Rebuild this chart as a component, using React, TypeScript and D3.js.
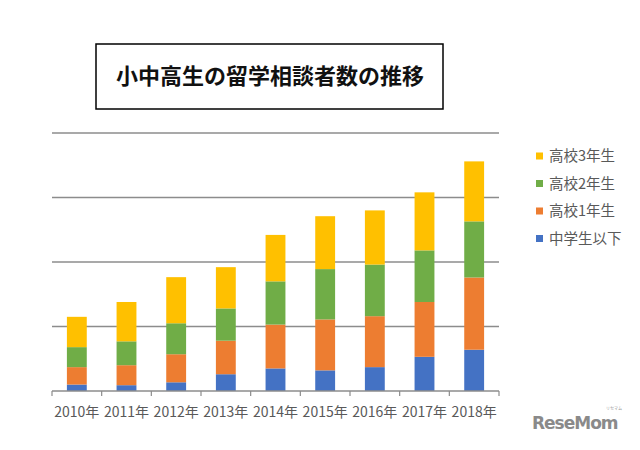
import React from "react";
import * as d3 from "d3";

const years = ["2010年", "2011年", "2012年", "2013年", "2014年", "2015年", "2016年", "2017年", "2018年"];
const seriesNames = ["中学生以下", "高校1年生", "高校2年生", "高校3年生"];
const colors = ["#4472C4", "#ED7D31", "#70AD47", "#FFC000"];
const juniorHigh = [10, 9, 13.5, 26, 35, 32, 37, 53, 64];
const high1 = [27, 31, 43.5, 52, 68, 79, 79, 85, 112];
const high2 = [31, 37, 48, 50, 67, 78, 80, 80, 87];
const high3 = [47, 61, 71.5, 64, 72, 82, 84, 90, 93];
const gridTicks = [0, 100, 200, 300, 400];

const W = 640, H = 450;
const M = { left: 52, right: 141, top: 133, bottom: 59 };
const FONT = "'Noto Sans CJK JP', 'Noto Sans', sans-serif";

export default function App() {
  const x = d3.scaleBand<string>().domain(years).range([M.left, W - M.right]).paddingInner(0.6).paddingOuter(0.3);
  const y = d3.scaleLinear().domain([0, 400]).range([H - M.bottom, M.top]);
  const table = years.map((yr, i) => ({ year: yr, s0: juniorHigh[i], s1: high1[i], s2: high2[i], s3: high3[i] }));
  const stack = d3.stack<any>().keys(["s0", "s1", "s2", "s3"]);
  const layers = stack(table);
  const band = d3.scaleBand<string>().domain(years).range([M.left, W - M.right]);
  const tickXs = d3.range(years.length + 1).map((i) => M.left + i * band.step());
  const legendOrder = [3, 2, 1, 0];
  return (
    <svg width={W} height={H} style={{ position: "absolute", left: 0, top: 0, background: "#fff" }}>
      <rect x={0} y={0} width={W} height={H} fill="#fff" />
      <rect x={96} y={44} width={347} height={65} fill="#fff" stroke="#000" strokeWidth={1.5} />
      <text x={270} y={84} textAnchor="middle" fontFamily={FONT} fontWeight="bold" fontSize={22} fill="#111">
        小中高生の留学相談者数の推移
      </text>
      {gridTicks.slice(1).map((t) => (
        <line key={t} x1={M.left} x2={W - M.right} y1={y(t)} y2={y(t)} stroke="#8c8c8c" strokeWidth={1.5} />
      ))}
      {layers.map((layer, li) =>
        layer.map((d, i) => (
          <rect key={`${li}-${i}`} x={x(years[i])} width={x.bandwidth()} y={y(d[1])} height={y(d[0]) - y(d[1])} fill={colors[li]} />
        ))
      )}
      <line x1={M.left} x2={W - M.right} y1={y(0)} y2={y(0)} stroke="#8c8c8c" strokeWidth={1.5} />
      {tickXs.map((tx, i) => (
        <line key={i} x1={tx} x2={tx} y1={y(0)} y2={y(0) + 5} stroke="#8c8c8c" strokeWidth={1.2} />
      ))}
      {years.map((yr) => (
        <text key={yr} x={band(yr)! + band.bandwidth() / 2} y={417} textAnchor="middle" fontFamily={FONT} fontSize={14} fill="#595959">
          {yr}
        </text>
      ))}
      {legendOrder.map((si, k) => (
        <g key={si} transform={`translate(536, ${156 + k * 27.5})`}>
          <rect x={0} y={-3.5} width={7} height={7} fill={colors[si]} />
          <text x={13} y={5} fontFamily={FONT} fontSize={14.5} fill="#595959">
            {seriesNames[si]}
          </text>
        </g>
      ))}
      <text x={532} y={429} fontFamily="'DejaVu Sans', sans-serif" fontWeight="bold" fontSize={17} fill="#8a8a8a" letterSpacing={-1}>
        ReseMom
      </text>
      <text x={606} y={410} fontFamily={FONT} fontSize={4} fill="#999">リセマム</text>
    </svg>
  );
}
